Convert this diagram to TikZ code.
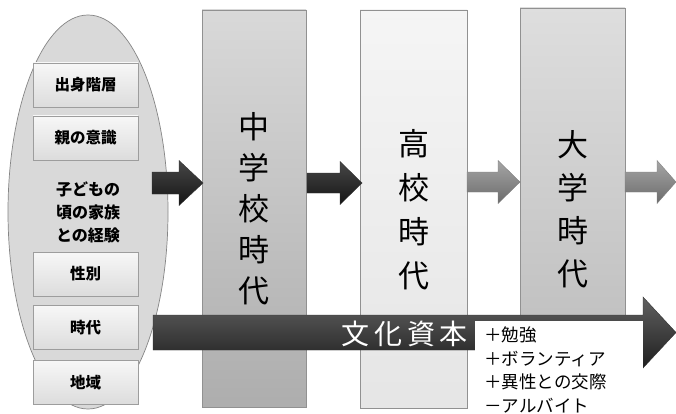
\documentclass[tikz,border=0pt]{standalone}
\usepackage{fontspec}
\newfontfamily\jp{Noto Sans CJK JP}
\usetikzlibrary{shapes.geometric}
\definecolor{ellfill}{HTML}{D9D9D9}
\definecolor{edgegray}{HTML}{858585}
\definecolor{boxtop}{HTML}{F7F7F7}
\definecolor{boxbot}{HTML}{DCDCDC}
\newcommand\blockarr[7]{\path[#7] (#1,#4-#5) -- (#2,#4-#5) -- (#2,#4-#6) -- (#3,#4) -- (#2,#4+#6) -- (#2,#4+#5) -- (#1,#4+#5) -- cycle;}
\tikzset{
  sbox/.style={draw=edgegray!80, line width=0.6pt, top color=boxtop, bottom color=boxbot,
    minimum width=105pt, minimum height=44pt, inner sep=0pt,
    font=\jp\bfseries\fontsize{15.5}{17}\selectfont},
  colbox/.style={draw=edgegray!90, line width=0.6pt, inner sep=0pt},
  vtext/.style={align=center, font=\jp\fontsize{31}{41}\selectfont},
  darkarr/.style={top color=black!72, bottom color=black!92, draw=black!80, line width=0.4pt},
  grayarr/.style={top color=black!35, bottom color=black!58, draw=black!50, line width=0.4pt},
  bigarr/.style={top color=black!62, bottom color=black!88, draw=black!80, line width=0.4pt},
}
\begin{document}
\begin{tikzpicture}[x=1pt,y=-1pt]
\useasboundingbox[fill=white] (0,0) rectangle (676,414);
% left ellipse
\node[ellipse, draw=edgegray, line width=0.7pt, fill=ellfill, minimum width=160pt, minimum height=394pt, inner sep=0pt] (ell) at (88,212) {};
\node[sbox] (b1) at (85.5,85) {出身階層};
\node[sbox] (b2) at (85.5,138) {親の意識};
\node[align=center, font=\jp\bfseries\fontsize{16}{23}\selectfont] (fam) at (88,212) {子どもの\\頃の家族\\との経験};
\node[sbox] (b3) at (85.5,274) {性別};
\node[sbox] (b4) at (85.5,327.5) {時代};
\node[sbox] (b5) at (85.5,382.5) {地域};
% columns
\node[colbox, top color=black!15, bottom color=black!32, minimum width=104pt, minimum height=397pt] (c1) at (254,208.5) {};
\node[colbox, top color=black!4, bottom color=black!10, minimum width=107pt, minimum height=398pt] (c2) at (413.5,209) {};
\node[colbox, top color=black!13, bottom color=black!24, minimum width=105pt, minimum height=307pt] (c3) at (572.5,161.5) {};
\node[vtext] (t1) at (c1.center |- 0,209) {中\\学\\校\\時\\代};
\node[vtext, font=\jp\fontsize{31}{44}\selectfont] (t2) at (c2.center |- 0,210) {高\\校\\時\\代};
\node[vtext, font=\jp\fontsize{31}{43}\selectfont] (t3) at (c3.center |- 0,209) {大\\学\\時\\代};
% small arrows
\blockarr{152}{179}{203}{183}{11}{22.5}{darkarr}
\blockarr{307}{340}{362}{183}{10}{21.5}{darkarr}
\blockarr{467}{498}{520}{182}{10}{21.5}{grayarr}
\blockarr{625}{657}{676}{182}{10}{21.5}{grayarr}
% big arrow
\blockarr{153}{643}{676}{332.5}{17.5}{35.5}{bigarr}
\fill[white] (475,321) rectangle (642.5,414);
\node[anchor=east, text=white, font=\jp\fontsize{28}{30}\selectfont, inner sep=0pt] (bunka) at (468,334) {文\,化\,資\,本};
\node[anchor=north west, align=left, inner sep=0pt, font=\jp\fontsize{17.5}{23.5}\selectfont] (list) at (484,327) {＋勉強\\＋ボランティア\\＋異性との交際\\－アルバイト};
\end{tikzpicture}
\end{document}
